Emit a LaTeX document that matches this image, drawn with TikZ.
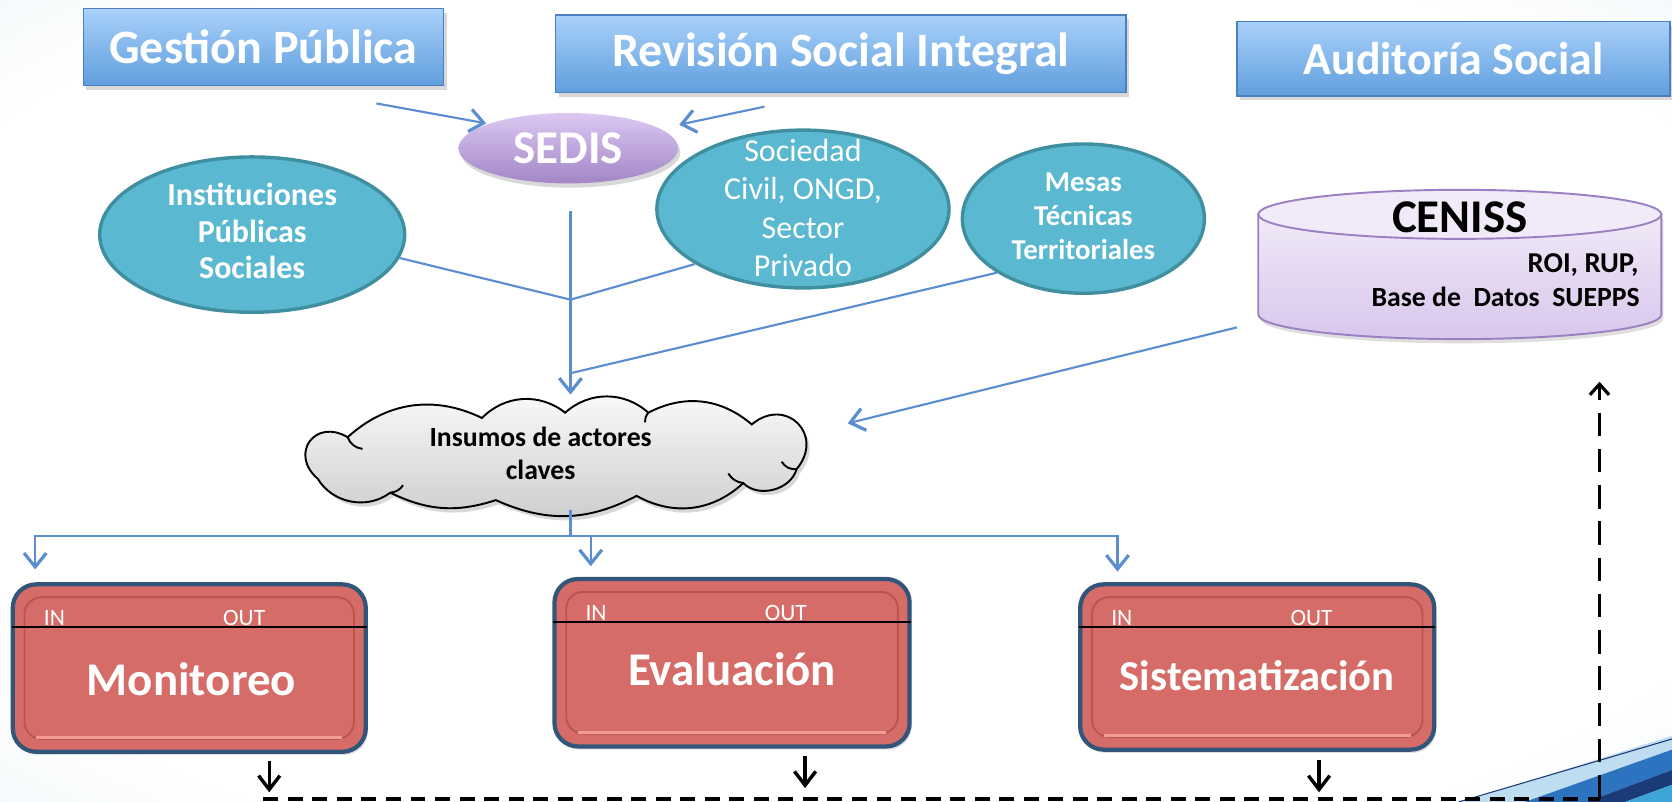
\documentclass[tikz,border=0pt]{standalone}
\usepackage{fontspec}
\setmainfont{Carlito}
\usepackage{graphicx}
\usetikzlibrary{shapes.geometric,arrows.meta,shadows,calc}
\definecolor{bgc}{HTML}{CFE2EC}
\definecolor{boxred}{HTML}{D66C67}
\definecolor{boxedge}{HTML}{34557A}
\definecolor{inneredge}{HTML}{B85550}
\definecolor{hilite}{HTML}{F29A94}
\definecolor{titletop}{HTML}{A9D1FA}
\definecolor{titlebot}{HTML}{5F9EDD}
\definecolor{titleedge}{HTML}{4D7FBF}
\definecolor{tealfill}{HTML}{5AB8D0}
\definecolor{tealedge}{HTML}{3F8FA0}
\definecolor{sedtop}{HTML}{DCC8F2}
\definecolor{sedbot}{HTML}{A286C6}
\definecolor{centop}{HTML}{F1EAF8}
\definecolor{cenbot}{HTML}{D8C6EC}
\definecolor{cenedge}{HTML}{9B80C3}
\definecolor{conn}{HTML}{5B8ED0}
\definecolor{swA}{HTML}{2C74C0}
\definecolor{swB}{HTML}{1B3A78}
\definecolor{swC}{HTML}{3EA6D6}
\definecolor{swD}{HTML}{BFDDF0}
\pgfdeclareradialshading{bgshade}{\pgfpoint{0bp}{0bp}}{color(0bp)=(white); color(30bp)=(white); color(58bp)=(bgc); color(72bp)=(bgc!85!blue!60!white)}
\begin{document}
\begin{tikzpicture}[x=0.5pt,y=-0.5pt,
  titlebox/.style={draw=titleedge, line width=0.6pt, top color=titletop, bottom color=titlebot,
    text=white, font=\fontsize{22.5}{26}\selectfont\bfseries, inner sep=0pt,
    drop shadow={opacity=0.3,shadow xshift=1.5pt,shadow yshift=-2pt}},
  tealell/.style={ellipse, fill=tealfill, draw=tealedge, line width=1.6pt, inner sep=0pt, text=white},
  redbox/.style={rounded corners=11pt, fill=boxred, draw=boxedge, line width=2pt, inner sep=0pt,
    drop shadow={opacity=0.25,shadow xshift=1pt,shadow yshift=-1.5pt}},
  boxlabel/.style={text=white, font=\fontsize{22}{26}\selectfont\bfseries, inner sep=0pt},
  iolabel/.style={text=white, font=\fontsize{11}{12}\selectfont, inner sep=0pt, anchor=south},
  bl/.style={draw=conn, line width=1pt},
  blarrow/.style={bl, -{Straight Barb[length=6.5pt,width=10.5pt,line width=1.5pt]}},
  blk/.style={draw=black, line width=1.6pt, -{Straight Barb[length=6.5pt,width=10pt,line width=1.6pt]}},
  dsh/.style={draw=black, line width=1.8pt, dash pattern=on 7pt off 4.5pt},
  puff/.style={bend left=#1},
  puff/.default=38
]
\useasboundingbox (0,0) rectangle (1568,752);
% background
\shade[shading=bgshade] (0,0) rectangle (1568,752);
% swoosh bottom right
\fill[swD] (1372,752) -- (1568,690) -- (1568,703) -- (1430,752) -- cycle;
\draw[swB, line width=0.5pt] (1368,752) -- (1568,693);
\fill[swA] (1430,752) -- (1568,703) -- (1568,722) -- (1488,752) -- cycle;
\fill[swB] (1488,752) -- (1568,722) -- (1568,736) -- (1524,752) -- cycle;
\fill[swC] (1524,752) -- (1568,736) -- (1568,752) -- cycle;

% title boxes
\node[titlebox, minimum width=169pt, minimum height=36pt] (gp) at (247,44) {Gestión Pública};
\node[titlebox, minimum width=267.5pt, minimum height=36.5pt] (rsi) at (788.5,50.5) {Revisión Social Integral};
\node[titlebox, minimum width=203pt, minimum height=35pt] (aud) at (1363,55) {\fontsize{21.5}{24}\selectfont Auditoría Social};

% SEDIS
\node[ellipse, top color=sedtop, bottom color=sedbot, minimum width=103pt, minimum height=33pt, inner sep=0pt,
  text=white, font=\fontsize{22}{24}\selectfont\bfseries,
  drop shadow={opacity=0.3,shadow xshift=1pt,shadow yshift=-2pt}] (sedis) at (533,139) {SEDIS};

% teal ellipses
\node[tealell, minimum width=143pt, minimum height=57pt, font=\fontsize{15}{17.5}\selectfont\bfseries] (inst) at (236.5,220)
  {\begin{tabular}{@{}c@{}}Instituciones\\[-0.5pt]Públicas\\[-0.5pt]Sociales\end{tabular}};
\node[tealell, minimum width=137pt, minimum height=74pt] (soc) at (753,196) {};
\node[text=white, font=\fontsize{15}{18}\selectfont, inner sep=0pt] (socT) at (753,198)
  {\begin{tabular}{@{}c@{}}Sociedad\\Civil, ONGD,\\Sector\\Privado\end{tabular}};
\node[tealell, minimum width=113.5pt, minimum height=70pt, font=\fontsize{13.5}{16}\selectfont\bfseries] (mesas) at (1016,205)
  {\begin{tabular}{@{}c@{}}Mesas\\Técnicas\\Territoriales\end{tabular}};

% CENISS cylinder
\coordinate (ceniss) at (1369,248);
\path[top color=centop, bottom color=cenbot, draw=cenedge, line width=0.9pt,
  drop shadow={opacity=0.25,shadow xshift=1pt,shadow yshift=-2pt}]
  (1180,201) -- (1180,295) arc[start angle=180, end angle=0, x radius=189, y radius=23] -- (1558,201) -- cycle;
\path[fill=centop, draw=cenedge, line width=0.9pt] (1369,201) ellipse[x radius=189, y radius=23];
\node[font=\fontsize{22}{24}\selectfont\bfseries, inner sep=0pt] (cenT) at (1369,204) {CENISS};
\node[font=\fontsize{13.5}{16}\selectfont\bfseries, inner sep=0pt, anchor=base east] (cenA) at (1537,256) {ROI, RUP,};
\node[font=\fontsize{13}{16}\selectfont\bfseries, inner sep=0pt, anchor=base east] (cenB) at (1538,287) {Base de\ \ Datos\ \ SUEPPS};

% cloud (drawn outline)
\path[top color=gray!4, bottom color=gray!40, draw=black, line width=0.9pt,
  drop shadow={opacity=0.3,shadow xshift=1.5pt,shadow yshift=-2pt}]
  (298,449) to[bend left=85, looseness=1.9] (326,410)
  to[puff=34] (452,392) to[puff=42] (530,387) to[puff=42] (608,387)
  to[puff=34] (705,398) to[bend left=85, looseness=1.8] (747,440)
  to[puff=60] (697,453) to[puff=36] (597,465)
  to[puff=26] (465,469) to[puff=22] (366,462) to[puff=48] cycle;
\draw[black, line width=0.9pt] (326,410) to[bend right=30] (340,421);
\draw[black, line width=0.9pt] (747,440) to[bend left=30] (733,433);
\draw[black, line width=0.9pt] (697,453) to[bend left=25] (683,444);
\draw[black, line width=0.9pt] (366,462) to[bend right=25] (378,455);
\draw[black, line width=0.9pt] (608,387) to[bend right=20] (605,396);
\coordinate (cloud) at (522,430);
\coordinate (cloudTop) at (535,380);
\coordinate (cloudBot) at (535,478);
\node[font=\fontsize{13}{15.5}\selectfont\bfseries, inner sep=0pt] (cloudT) at (507,428)
  {\begin{tabular}{@{}c@{}}Insumos de actores\\claves\end{tabular}};

% red boxes
\node[redbox, minimum width=165.5pt, minimum height=78.5pt] (mon) at (177.5,626.5) {};
\node[redbox, minimum width=166.5pt, minimum height=78.5pt] (eva) at (686.5,621.5) {};
\node[redbox, minimum width=166pt, minimum height=77.5pt] (sis) at (1179,625.5) {};
\foreach \b in {mon,eva,sis}{
  \draw[inneredge, line width=0.9pt, rounded corners=8pt] ($(\b.north west)+(13,14)$) rectangle ($(\b.south east)+(-13,-14)$);
  \draw[hilite, line width=1.4pt] ($(\b.south west)+(24,-15)$) -- ($(\b.south east)+(-24,-15)$);
  \draw[black, line width=1pt] ($(\b.north west)+(1,42)$) -- ($(\b.north east)+(-1,42)$);
  \node[iolabel] (\b IN) at ($(\b.north west)+(41,41)$) {IN};
  \node[iolabel] (\b OUT) at ($(\b.north west)+(219,41)$) {OUT};
}
\node[boxlabel] (monT) at ($(mon.center)+(2,10)$) {Monitoreo};
\node[boxlabel] (evaT) at ($(eva.center)+(0,6)$) {Evaluación};
\node[boxlabel, font=\fontsize{20}{24}\selectfont\bfseries] (sisT) at ($(sis.center)+(0,8)$) {Sistematización};

% blue connectors
\coordinate (gpA) at (353,97);
\coordinate (rsiA) at (717,100);
\coordinate (stem) at (535,198);
\coordinate (j1) at (535,281);
\coordinate (j2) at (535,350);
\coordinate (cenA0) at (1160,307);
\coordinate (cenTip) at (795,397);
\coordinate (split) at (535,503);
\draw[blarrow, shorten >=1pt] (gpA) -- (sedis.163);
\draw[blarrow, shorten >=9pt] (rsiA) -- (sedis.12);
\draw[bl] (inst.-9) -- (j1);
\draw[bl] (soc.207) -- (j1);
\draw[bl] (mesas.212) -- (j2);
\draw[blarrow, shorten >=5pt] (stem) -- (cloudTop);
\draw[blarrow] (cenA0) -- (cenTip);
\draw[bl] (cloudBot) -- (split);
\draw[blarrow, shorten >=6pt] (split) -| ($(mon.north west)+(23,0)$);
\draw[blarrow, shorten >=5pt] (split) -| ($(eva.north west)+(36,0)$);
\draw[blarrow, shorten >=5pt] (split) -| ($(sis.north west)+(37,0)$);

% black outputs and dashed feedback
\coordinate (dL) at (247,749);
\coordinate (dR) at (1500,749);
\coordinate (dTop) at (1500,358);
\coordinate (monOut) at ($(mon.south)+(75,0)$);
\coordinate (evaOut) at ($(eva.south)+(68.5,0)$);
\coordinate (sisOut) at ($(sis.south)+(58,0)$);
\draw[blk, shorten <=3.5pt, shorten >=3pt] (monOut) -- (monOut |- dL);
\draw[blk, shorten <=3.5pt, shorten >=5pt] (evaOut) -- (evaOut |- dL);
\draw[blk, shorten <=4pt, shorten >=3pt] (sisOut) -- (sisOut |- dL);
\draw[dsh] (dL) -- (dR);
\draw[dsh, -{Straight Barb[length=5pt,width=9pt,line width=1.5pt]}, dash pattern=on 11pt off 6pt] (dR) -- (dTop);
\end{tikzpicture}
\end{document}
